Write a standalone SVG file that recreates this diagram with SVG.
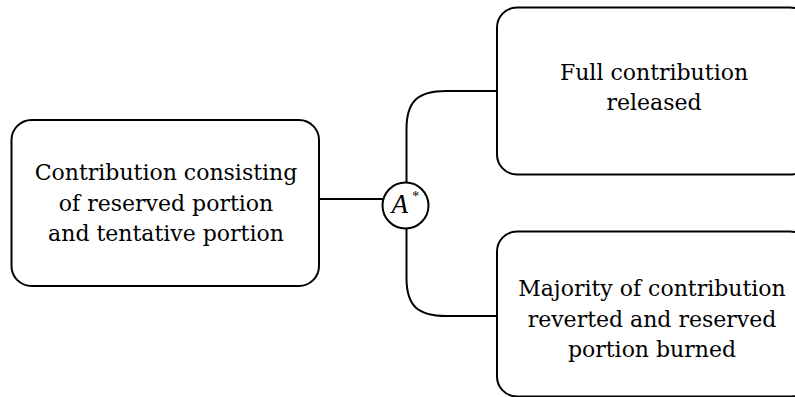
<svg xmlns="http://www.w3.org/2000/svg" width="795" height="397" viewBox="0 0 795 397">
<style>
.box{fill:#fff;stroke:#000;stroke-width:2}
.lbl{font-family:"DejaVu Serif","Liberation Serif",serif;font-size:22px;fill:#000;text-anchor:middle}
.conn{fill:none;stroke:#000;stroke-width:2}
.math{font-family:"Liberation Serif","DejaVu Serif",serif;font-style:italic;fill:#000}
</style>
<rect width="795" height="397" fill="#fff"/>
<g id="connectors">
<path class="conn" d="M319,199 H383"/>
<path class="conn" d="M406.5,183 V129 C406.5,101 418,91 446,91 H497"/>
<path class="conn" d="M406.5,229 V278 C406.5,306 418,316 446,316 H497"/>
</g>
<g id="source">
<rect class="box" x="11.5" y="120" width="307.5" height="166" rx="20"/>
<text class="lbl" x="166" y="179.5">Contribution consisting</text>
<text class="lbl" x="166" y="210.5">of reserved portion</text>
<text class="lbl" x="166" y="241">and tentative portion</text>
</g>
<g id="gate">
<circle cx="405.5" cy="205.5" r="23" fill="#fff" stroke="#000" stroke-width="2"/>
<text class="math" x="391.5" y="213" font-size="27">A</text>
<text class="math" x="411.5" y="201" font-size="14" font-style="normal">*</text>
</g>
<g id="released">
<rect class="box" x="497" y="7.5" width="313" height="167" rx="20"/>
<text class="lbl" x="654" y="79.5">Full contribution</text>
<text class="lbl" x="654" y="110">released</text>
</g>
<g id="burned">
<rect class="box" x="497" y="231.5" width="313" height="165" rx="20"/>
<text class="lbl" x="652" y="296">Majority of contribution</text>
<text class="lbl" x="652" y="326.5">reverted and reserved</text>
<text class="lbl" x="652" y="357">portion burned</text>
</g>
</svg>
